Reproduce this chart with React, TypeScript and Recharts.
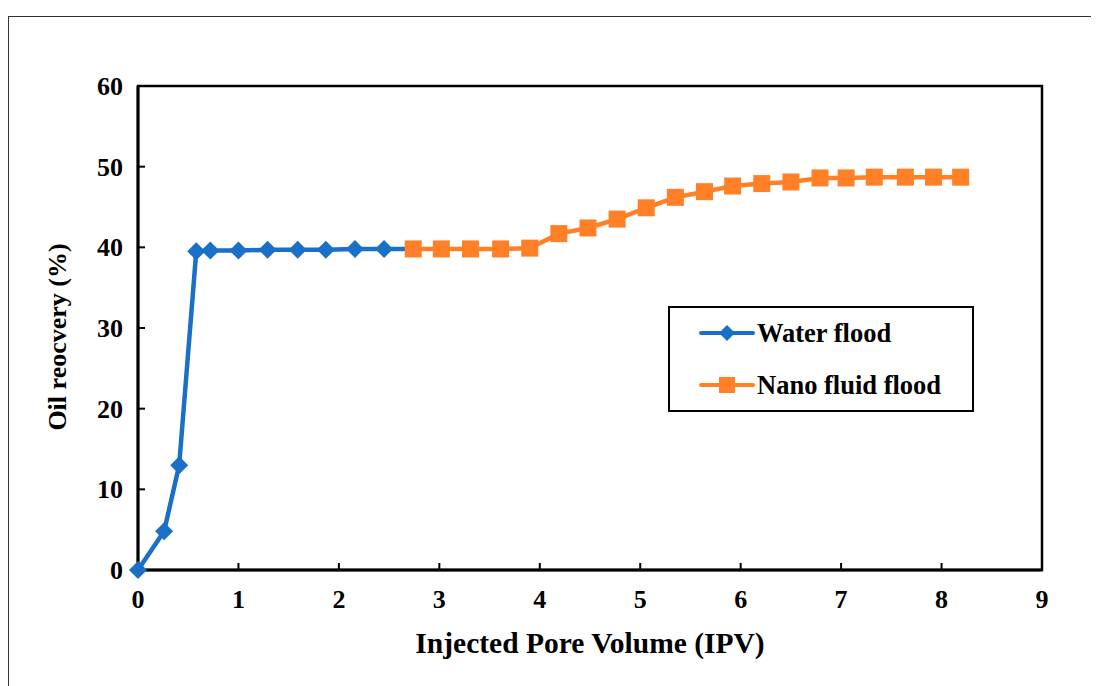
import { LineChart, Line, XAxis, YAxis, ReferenceArea } from 'recharts';

// Injected pore volume (IPV) vs oil recovery (%)
const waterIpv = [0, 0.26, 0.41, 0.58, 0.72, 1.0, 1.29, 1.59, 1.87, 2.16, 2.45, 2.74];
const waterRecovery = [0, 4.8, 13.0, 39.5, 39.6, 39.6, 39.7, 39.7, 39.7, 39.8, 39.8, 39.8];

const nanoIpv = [
  2.74, 3.02, 3.31, 3.61, 3.9, 4.19, 4.48, 4.77, 5.06, 5.35,
  5.64, 5.92, 6.21, 6.5, 6.79, 7.05, 7.33, 7.64, 7.92, 8.19,
];
const nanoRecovery = [
  39.8, 39.8, 39.8, 39.8, 39.9, 41.7, 42.4, 43.5, 44.9, 46.2,
  46.9, 47.6, 47.9, 48.1, 48.6, 48.6, 48.7, 48.7, 48.7, 48.7,
];

const xTicks = [0, 1, 2, 3, 4, 5, 6, 7, 8, 9];
const yTicks = [0, 10, 20, 30, 40, 50, 60];

const BLUE = '#1A6FC6';
const ORANGE = '#FF8026';
const FONT = '"Liberation Serif", "Times New Roman", serif';

const waterData = waterIpv.map((x, i) => ({ x, y: waterRecovery[i] }));
const nanoData = nanoIpv.map((x, i) => ({ x, y: nanoRecovery[i] }));

const Diamond = ({ cx, cy, size = 9 }: { cx: number; cy: number; size?: number }) => (
  <path
    d={`M${cx},${cy - size} L${cx + size},${cy} L${cx},${cy + size} L${cx - size},${cy} Z`}
    fill={BLUE}
  />
);

const Square = ({ cx, cy, size = 8.5 }: { cx: number; cy: number; size?: number }) => (
  <rect x={cx - size} y={cy - size} width={size * 2} height={size * 2} fill={ORANGE} />
);

const XTick = ({ x, y, payload }: any) => (
  <text x={x} y={y + 43} textAnchor="middle" fontFamily={FONT} fontWeight="bold" fontSize={26} fill="#000">
    {payload.value}
  </text>
);

const YTick = ({ x, y, payload }: any) => (
  <text x={x - 20} y={y + 9} textAnchor="end" fontFamily={FONT} fontWeight="bold" fontSize={26} fill="#000">
    {payload.value}
  </text>
);

const LegendBox = () => (
  <div
    style={{
      position: 'absolute',
      left: 660,
      top: 298,
      width: 302,
      height: 102,
      border: '2px solid #000',
      background: '#fff',
      fontFamily: FONT,
      fontWeight: 'bold',
      fontSize: 26.5,
    }}
  >
    {[
      { label: 'Water flood', color: BLUE, top: 25, marker: 'd' },
      { label: 'Nano fluid flood', color: ORANGE, top: 77, marker: 's' },
    ].map(item => (
      <div key={item.label} style={{ position: 'absolute', left: 29, top: item.top - 16, height: 32, display: 'flex', alignItems: 'center' }}>
        <svg width={56} height={32}>
          <line x1={2} y1={16} x2={54} y2={16} stroke={item.color} strokeWidth={4} strokeLinecap="round" />
          {item.marker === 'd' ? <Diamond cx={28} cy={16} size={8} /> : <Square cx={28} cy={16} size={8} />}
        </svg>
        <span style={{ marginLeft: 2, color: '#000', whiteSpace: 'nowrap', lineHeight: '32px' }}>{item.label}</span>
      </div>
    ))}
  </div>
);

export default function App() {
  return (
    <div style={{ position: 'relative', width: 1091, height: 678, background: '#fff' }}>
      <div
        style={{
          position: 'absolute',
          left: 0,
          top: 8,
          width: 1091,
          height: 670,
          borderTop: '1px solid #333',
          borderLeft: '1px solid #333',
          boxSizing: 'border-box',
        }}
      />
      <LineChart
        width={1091}
        height={678}
        margin={{ top: 78, right: 57, left: 70, bottom: 56 }}
        style={{ position: 'absolute', left: 0, top: 0 }}
      >
        <XAxis
          type="number"
          dataKey="x"
          domain={[0, 9]}
          ticks={xTicks}
          tickSize={-7}
          height={60}
          stroke="#000"
          axisLine={{ stroke: '#000', strokeWidth: 3 }}
          tickLine={{ stroke: '#000', strokeWidth: 2 }}
          tick={<XTick />}
          label={({ viewBox }: any) => (
            <text
              x={viewBox.x + viewBox.width / 2}
              y={645}
              textAnchor="middle"
              fontFamily={FONT}
              fontWeight="bold"
              fontSize={29.5}
              fill="#000"
            >
              Injected Pore Volume (IPV)
            </text>
          )}
        />
        <YAxis
          type="number"
          dataKey="y"
          domain={[0, 60]}
          ticks={yTicks}
          width={60}
          tickSize={-7}
          stroke="#000"
          axisLine={{ stroke: '#000', strokeWidth: 3 }}
          tickLine={{ stroke: '#000', strokeWidth: 2 }}
          tick={<YTick />}
          label={({ viewBox }: any) => {
            const cx = 49;
            const cy = viewBox.y + viewBox.height / 2 + 9;
            return (
              <text
                x={cx}
                y={cy}
                transform={`rotate(-90, ${cx}, ${cy})`}
                textAnchor="middle"
                dominantBaseline="central"
                fontFamily={FONT}
                fontWeight="bold"
                fontSize={26}
                fill="#000"
              >
                Oil reocvery (%)
              </text>
            );
          }}
        />
        <ReferenceArea x1={0} x2={9} y1={0} y2={60} fill="none" stroke="#000" strokeWidth={2.5} ifOverflow="visible" />
        <Line
          data={waterData}
          dataKey="y"
          name="Water flood"
          stroke={BLUE}
          strokeWidth={4.5}
          isAnimationActive={false}
          dot={(props: any) =>
            props.index === waterData.length - 1 ? (
              <g key={`wd-${props.index}`} />
            ) : (
              <Diamond key={`wd-${props.index}`} cx={props.cx} cy={props.cy} />
            )
          }
          activeDot={false}
        />
        <Line
          data={nanoData}
          dataKey="y"
          name="Nano fluid flood"
          stroke={ORANGE}
          strokeWidth={4.5}
          isAnimationActive={false}
          dot={(props: any) => <Square key={`nd-${props.index}`} cx={props.cx} cy={props.cy} />}
          activeDot={false}
        />
      </LineChart>
      <LegendBox />
    </div>
  );
}
